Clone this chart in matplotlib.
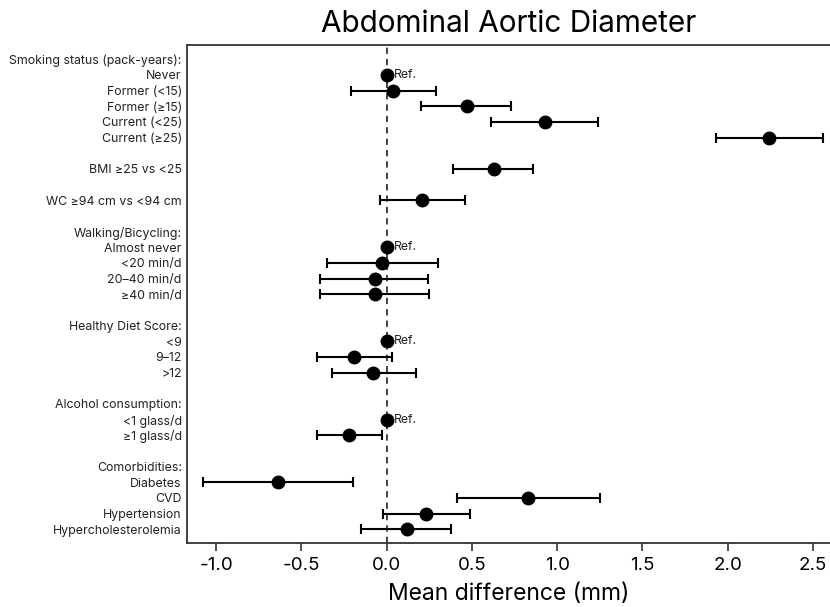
import numpy as np
import matplotlib
matplotlib.use("Agg")
import matplotlib.pyplot as plt

plt.rcParams['font.family'] = ['Inter', 'DejaVu Sans']

# Row labels, top to bottom ("" = spacer row between groups)
row_labels = [
    "Smoking status (pack-years):", "Never", "Former (<15)", "Former (\u226515)",
    "Current (<25)", "Current (\u226525)", "",
    "BMI \u226525 vs <25", "",
    "WC \u226594 cm vs <94 cm", "",
    "Walking/Bicycling:", "Almost never", "<20 min/d", "20\u201340 min/d", "\u226540 min/d", "",
    "Healthy Diet Score:", "<9", "9\u201312", ">12", "",
    "Alcohol consumption:", "<1 glass/d", "\u22651 glass/d", "",
    "Comorbidities:", "Diabetes", "CVD", "Hypertension", "Hypercholesterolemia",
]

# Reference categories (drawn at 0 with a "Ref." tag)
reference_rows = ["Never", "Almost never", "<9", "<1 glass/d"]

# Mean difference (mm) with 95% CI for each compared category
estimate_rows = [
    "Former (<15)", "Former (\u226515)", "Current (<25)", "Current (\u226525)",
    "BMI \u226525 vs <25", "WC \u226594 cm vs <94 cm",
    "<20 min/d", "20\u201340 min/d", "\u226540 min/d",
    "9\u201312", ">12",
    "\u22651 glass/d",
    "Diabetes", "CVD", "Hypertension", "Hypercholesterolemia",
]
mean_diff = [0.04, 0.47, 0.93, 2.24, 0.63, 0.21, -0.03, -0.07, -0.07,
             -0.19, -0.08, -0.22, -0.64, 0.83, 0.23, 0.12]
ci_low = [-0.21, 0.20, 0.61, 1.93, 0.39, -0.04, -0.35, -0.39, -0.39,
          -0.41, -0.32, -0.41, -1.08, 0.41, -0.02, -0.15]
ci_high = [0.29, 0.73, 1.24, 2.56, 0.86, 0.46, 0.30, 0.24, 0.25,
           0.03, 0.17, -0.03, -0.20, 1.25, 0.49, 0.38]

x_ticks = [-1.0, -0.5, 0.0, 0.5, 1.0, 1.5, 2.0, 2.5]

ypos = {lab: i for i, lab in enumerate(row_labels) if lab}

fig = plt.figure(figsize=(8.3, 6.07), dpi=100)
ax = fig.add_axes([0.2257, 0.1049, 0.7743, 0.8210])

spine_col = "#333333"
ax.axvline(0, color=spine_col, lw=1.3, ls=(0, (3.5, 2.8)), zorder=1)

y_est = [ypos[l] for l in estimate_rows]
md = np.array(mean_diff)
err = np.vstack([md - np.array(ci_low), np.array(ci_high) - md])
ax.errorbar(md, y_est, xerr=err, fmt="o", color="black", ms=9,
            elinewidth=1.5, capsize=3.8, capthick=1.5, zorder=3)

y_ref = [ypos[l] for l in reference_rows]
ax.plot([0] * len(y_ref), y_ref, "o", color="black", ms=9, zorder=3)
for y in y_ref:
    ax.text(0.045, y, "Ref.", ha="left", va="center", fontsize=8.8, color="#222222")

ax.set_xlim(-1.169, 2.60)
ax.set_ylim(30.9, -0.91)

ax.set_yticks(range(len(row_labels)))
ax.set_yticklabels(row_labels, fontsize=8.9, color="#222222")
ax.tick_params(axis="y", length=0, pad=4)

ax.set_xticks(x_ticks)
ax.set_xticklabels([f"{t:.1f}" for t in x_ticks], fontsize=13.5)
ax.tick_params(axis="x", length=6, width=1.2, color=spine_col, pad=4)

for side in ["left", "bottom", "top"]:
    ax.spines[side].set_color(spine_col)
    ax.spines[side].set_linewidth(1.3)
ax.spines["right"].set_visible(False)

ax.set_xlabel("Mean difference (mm)", fontsize=16.5, labelpad=6)
ax.set_title("Abdominal Aortic Diameter", fontsize=21.4, pad=9)

fig.savefig("out.png", dpi=100)
